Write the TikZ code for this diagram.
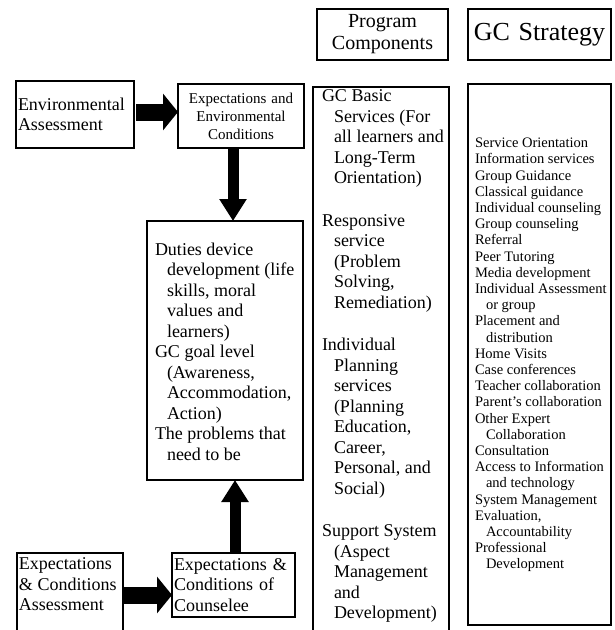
\documentclass[tikz,border=0pt]{standalone}
\usepackage{fontspec}
\setmainfont{Liberation Serif}
\usetikzlibrary{arrows.meta}
\newcommand{\szA}{\fontsize{18pt}{20.5pt}\selectfont}
\newcommand{\szB}{\fontsize{15pt}{18pt}\selectfont}
\newcommand{\szC}{\fontsize{14.5pt}{16.2pt}\selectfont}
\newcommand{\szH}{\fontsize{20pt}{22pt}\selectfont}
\newcommand{\szG}{\fontsize{26pt}{29pt}\selectfont}
\newcommand{\ind}{\hspace*{12pt}}
\newcommand{\indc}{\hspace*{11pt}}
\begin{document}
\begin{tikzpicture}[x=1pt,y=-1pt,
  box/.style={draw, line width=1.3pt, inner sep=0pt, outer sep=0pt},
  txt/.style={inner sep=0pt, outer sep=0pt, align=left, anchor=north west},
  bigarrow/.style={line width=17pt, -{Triangle[length=15pt,width=36pt]}},
  vertarrow/.style={line width=11pt, -{Triangle[length=22pt,width=26pt]}}]
\useasboundingbox (0,0) rectangle (614,630);
% headers
\node[box, font=\szH, align=center, text width=131pt, minimum height=51pt, anchor=north west] (proghead) at (317,9) {Program\\Components};
\node[box, font=\szG, align=center, text width=143pt, minimum height=51pt, anchor=north west] (gchead) at (468,9) {GC Strategy};
% left boxes
\node[box, font=\szA, align=left, text width=114pt, inner xsep=2pt, minimum height=67pt, anchor=north west] (env) at (16,81) {Environmental\\Assessment};
\node[box, font=\szB, align=center, text width=122pt, inner xsep=2pt, minimum height=64pt, anchor=north west] (exp) at (178,84) {Expectations and\\Environmental\\Conditions};
\node[box, minimum width=156pt, minimum height=259pt, anchor=north west] (duties) at (147,221) {};
\node[txt, font=\szA] (dutiest) at (155,243) {Duties device\\
\ind development (life\\
\ind skills, moral\\
\ind values and\\
\ind learners)\\
GC goal level\\
\ind (Awareness,\\
\ind Accommodation,\\
\ind Action)\\
The problems that\\
\ind need to be};
\node[box, minimum width=106pt, minimum height=87pt, anchor=north west] (eca) at (17,553) {};
\node[txt, font=\szA] (ecat) at (19,558) {Expectations\\\& Conditions\\Assessment};
\node[box, font=\szA, align=left, text width=119pt, inner xsep=2pt, minimum height=64pt, anchor=north west] (couns) at (172,553) {Expectations \&\\Conditions of\\Counselee};
% program column
\node[box, minimum width=136pt, minimum height=553pt, anchor=north west] (progcol) at (313,87) {};
\node[txt, font=\szA] (progt) at (322,90) {GC Basic\\
\ind Services (For\\
\ind all learners and\\
\ind Long-Term\\
\ind Orientation)\\[22pt]
Responsive\\
\ind service\\
\ind (Problem\\
\ind Solving,\\
\ind Remediation)\\[22pt]
Individual\\
\ind Planning\\
\ind services\\
\ind (Planning\\
\ind Education,\\
\ind Career,\\
\ind Personal, and\\
\ind Social)\\[22pt]
Support System\\
\ind (Aspect\\
\ind Management\\
\ind and\\
\ind Development)};
% GC column
\node[box, minimum width=143pt, minimum height=541pt, anchor=north west] (gccol) at (468,84) {};
\node[txt, font=\szC] (gct) at (475,138) {Service Orientation\\
Information services\\
Group Guidance\\
Classical guidance\\
Individual counseling\\
Group counseling\\
Referral\\
Peer Tutoring\\
Media development\\
Individual Assessment\\
\indc or group\\
Placement and\\
\indc distribution\\
Home Visits\\
Case conferences\\
Teacher collaboration\\
Parent’s collaboration\\
Other Expert\\
\indc Collaboration\\
Consultation\\
Access to Information\\
\indc and technology\\
System Management\\
Evaluation,\\
\indc Accountability\\
Professional\\
\indc Development};
% arrows
\coordinate (ya) at (0,112);
\coordinate (yb) at (0,595);
\coordinate (xa) at (233,0);
\coordinate (xb) at (235,0);
\draw[bigarrow, shorten <=2pt] (env.east |- ya) -- (exp.west |- ya);
\draw[vertarrow] (exp.south -| xa) -- (duties.north -| xa);
\draw[vertarrow] (couns.north -| xb) -- (duties.south -| xb);
\draw[bigarrow] (eca.east |- yb) -- (couns.west |- yb);
\end{tikzpicture}
\end{document}
